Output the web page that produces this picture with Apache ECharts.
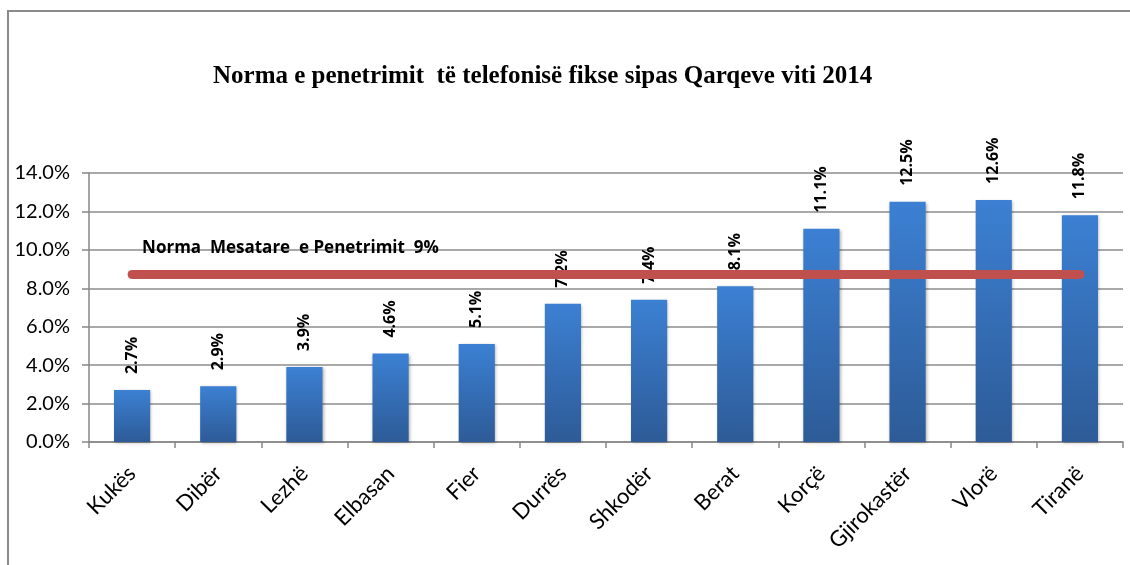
<!DOCTYPE html>
<html>
<head>
<meta charset="utf-8">
<script src="https://cdn.jsdelivr.net/npm/echarts@6/dist/echarts.min.js"></script>
<style>
  html, body { margin: 0; padding: 0; background: #fff; }
  #chart { width: 1130px; height: 565px; }
</style>
</head>
<body>
<div id="chart"></div>
<script>
// qarqet
const categories = ['Kukës', 'Dibër', 'Lezhë', 'Elbasan', 'Fier', 'Durrës', 'Shkodër', 'Berat', 'Korçë', 'Gjirokastër', 'Vlorë', 'Tiranë'];
// norma e penetrimit (%)
const values = [2.7, 2.9, 3.9, 4.6, 5.1, 7.2, 7.4, 8.1, 11.1, 12.5, 12.6, 11.8];
// vija mesatare (vizatuar pak poshte 9%)
const averageValue = 8.75;
const averageLabel = 'Norma  Mesatare  e Penetrimit  9%';
const yTicks = [0, 2, 4, 6, 8, 10, 12, 14];

const chart = echarts.init(document.getElementById('chart'));

const option = {
  animation: false,
  title: {
    text: 'Norma e penetrimit  të telefonisë fikse sipas Qarqeve viti 2014',
    left: 208,
    top: 59,
    textStyle: {
      fontFamily: 'Liberation Serif',
      fontWeight: 'bold',
      fontSize: 25,
      color: '#000'
    }
  },
  graphic: [{
    type: 'rect',
    shape: { x: 8, y: 11, width: 1140, height: 580 },
    style: { fill: 'none', stroke: '#8a8a8a', lineWidth: 2 },
    silent: true
  }],
  grid: { left: 89, right: 7, top: 173, bottom: 123 },
  xAxis: {
    type: 'category',
    data: categories,
    axisLine: { lineStyle: { color: '#868686', width: 1.5 } },
    axisTick: { show: true, length: 6, lineStyle: { color: '#868686', width: 1.5 } },
    axisLabel: {
      rotate: 45,
      margin: 28,
      fontFamily: 'Lato',
      fontSize: 22,
      color: '#000'
    }
  },
  yAxis: {
    type: 'value',
    min: yTicks[0],
    max: yTicks[yTicks.length - 1],
    interval: 2,
    axisLine: { show: true, lineStyle: { color: '#868686', width: 1.5 } },
    axisTick: { show: true, length: 7, lineStyle: { color: '#868686', width: 1.5 } },
    splitLine: { lineStyle: { color: '#8c8c8c', width: 1.5 } },
    axisLabel: {
      margin: 19,
      fontFamily: 'Lato',
      fontSize: 20,
      color: '#000',
      formatter: v => v.toFixed(1) + '%'
    }
  },
  series: [{
    type: 'bar',
    data: values,
    barWidth: '42%',
    itemStyle: {
      color: new echarts.graphic.LinearGradient(0, 0, 0, 1, [
        { offset: 0, color: '#3c80d3' },
        { offset: 1, color: '#2d5b97' }
      ]),
      shadowColor: 'rgba(0,0,0,0.3)',
      shadowBlur: 3,
      shadowOffsetX: 1,
      shadowOffsetY: 1
    },
    label: {
      show: true,
      position: 'top',
      rotate: 90,
      align: 'left',
      verticalAlign: 'middle',
      distance: 16,
      fontFamily: 'Open Sans',
      fontWeight: 'bold',
      fontSize: 16,
      color: '#000',
      formatter: p => p.value.toFixed(1) + '%'
    },
    markLine: {
      silent: true,
      symbol: 'none',
      lineStyle: { color: '#c0504d', width: 9, type: 'solid', cap: 'round' },
      label: {
        show: true,
        position: 'insideStartTop',
        distance: [10, 17],
        formatter: averageLabel,
        fontFamily: 'Open Sans',
        fontWeight: 'bold',
        fontSize: 17,
        color: '#000'
      },
      data: [[
        { coord: [categories[0], averageValue] },
        { coord: [categories[categories.length - 1], averageValue] }
      ]]
    }
  }]
};

chart.setOption(option);
</script>
</body>
</html>
